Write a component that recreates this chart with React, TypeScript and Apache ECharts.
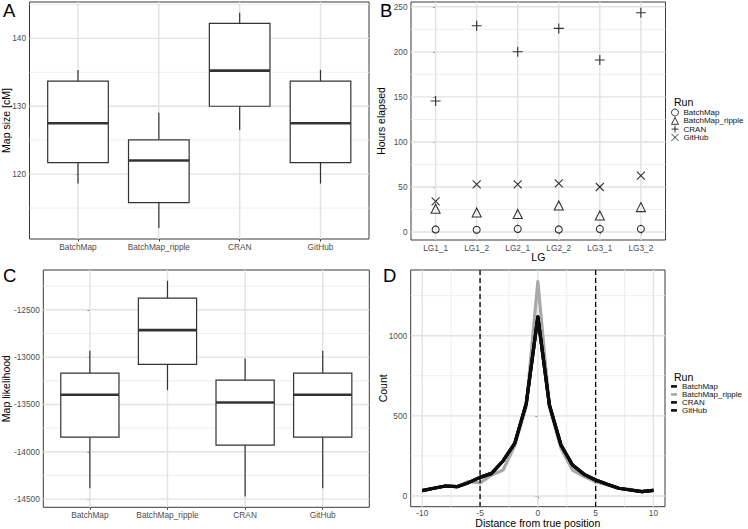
import React, { useEffect, useRef } from 'react';
import * as echarts from 'echarts';

// ---------- DATA ----------
const boxCategories = ['BatchMap', 'BatchMap_ripple', 'CRAN', 'GitHub'];
// five-number summaries: [lower whisker, Q1, median, Q3, upper whisker]
const mapSizeStats = [
  [118.6, 121.7, 127.5, 133.7, 135.35],
  [112.05, 115.8, 122.0, 125.05, 129.05],
  [126.5, 130.0, 135.25, 142.2, 143.77],
  [118.6, 121.7, 127.5, 133.7, 135.35],
];
const mapSizeTicks = [120, 130, 140];
const mapSizeMinor = [115, 125, 135, 145];

const mapLikelihoodStats = [
  [-14384, -13845, -13398, -13169, -12933],
  [-13349, -13077, -12715, -12377, -12194],
  [-14472, -13930, -13479, -13243, -13014],
  [-14384, -13845, -13398, -13169, -12933],
];
const likelihoodTicks = [-14500, -14000, -13500, -13000, -12500];
const likelihoodMinor = [-14250, -13750, -13250, -12750, -12250];

const lgCategories = ['LG1_1', 'LG1_2', 'LG2_1', 'LG2_2', 'LG3_1', 'LG3_2'];
const hoursBatchMap = [2.9, 2.5, 3.5, 2.9, 3.5, 3.5];
const hoursRipple = [25.8, 21.7, 20.0, 29.5, 18.4, 27.7];
const hoursCRAN = [145.5, 229.0, 200.1, 226.0, 191.0, 243.4];
const hoursGitHub = [34.0, 53.0, 53.0, 54.0, 50.0, 62.7];
const hoursTicks = [0, 50, 100, 150, 200, 250];
const hoursMinor = [25, 75, 125, 175, 225];

const distanceValues = [-10, -9, -8, -7, -6, -5, -4, -3, -2, -1, 0, 1, 2, 3, 4, 5, 6, 7, 8, 9, 10];
const countBatchMap = [33, 48, 62, 58, 83, 116, 141, 220, 328, 578, 1118, 568, 318, 193, 135, 100, 73, 48, 37, 27, 35];
const countRipple = [33, 48, 62, 58, 90, 82, 131, 162, 315, 560, 1337, 557, 297, 162, 121, 89, 69, 48, 42, 27, 37];
const countCRAN = [33, 48, 62, 58, 83, 116, 141, 220, 328, 578, 1118, 568, 318, 193, 135, 100, 73, 48, 37, 27, 35];
const countGitHub = [33, 48, 62, 58, 83, 116, 141, 220, 328, 578, 1118, 568, 318, 193, 135, 100, 73, 48, 37, 27, 35];
const distanceTicks = [-10, -5, 0, 5, 10];
const distanceMinor = [-7.5, -2.5, 2.5, 7.5];
const countTicks = [0, 500, 1000];
const countMinor = [250, 750, 1250];
const windowMarks = [-5, 5];

// ---------- STYLE ----------
const FONT = '"Liberation Sans", Arial, Helvetica, sans-serif';
const TICK_TEXT = '#4d4d4d';
const BORDER = '#3a3a3a';
const GRID_MAJOR = '#e2e2e2';
const GRID_MINOR = '#ececec';
const BOX_STROKE = '#333333';
const DARK_LINE = '#0d0d0d';
const LIGHT_LINE = '#a8a8a8';

const idx = (arr: any[]) => arr.map((_, i) => i);

function gridLineSeries(gi: number, hMajor: number[], hMinor: number[], vMajor: number[], vMinor: number[]) {
  const data = [
    ...hMinor.map((v) => [v, 0, 1]),
    ...vMinor.map((v) => [v, 1, 1]),
    ...hMajor.map((v) => [v, 0, 0]),
    ...vMajor.map((v) => [v, 1, 0]),
  ];
  return {
    type: 'custom',
    xAxisIndex: gi,
    yAxisIndex: gi,
    silent: true,
    z: 1,
    data,
    renderItem: (params: any, api: any) => {
      const cs = params.coordSys;
      const v = api.value(0);
      const orient = api.value(1);
      const kind = api.value(2);
      const style = {
        stroke: kind === 0 ? GRID_MAJOR : GRID_MINOR,
        lineWidth: kind === 0 ? 1.4 : 0.9,
      };
      if (orient === 0) {
        const y = api.coord([0, v])[1];
        return { type: 'line', shape: { x1: cs.x, y1: y, x2: cs.x + cs.width, y2: y }, style };
      }
      const x = api.coord([v, 0])[0];
      return { type: 'line', shape: { x1: x, y1: cs.y, x2: x, y2: cs.y + cs.height }, style };
    },
  };
}

function boxSeries(gi: number, stats: number[][]) {
  return {
    type: 'custom',
    xAxisIndex: gi,
    yAxisIndex: gi,
    z: 3,
    silent: true,
    data: stats.map((s, i) => [i, ...s]),
    renderItem: (params: any, api: any) => {
      const i = api.value(0);
      const p = api.coord([i, api.value(1)]);
      const cx = p[0];
      const yLow = p[1];
      const yQ1 = api.coord([i, api.value(2)])[1];
      const yMed = api.coord([i, api.value(3)])[1];
      const yQ3 = api.coord([i, api.value(4)])[1];
      const yHigh = api.coord([i, api.value(5)])[1];
      const hw = api.size([0.75, 0])[0] / 2;
      const st = { stroke: BOX_STROKE, lineWidth: 1.2 };
      return {
        type: 'group',
        children: [
          { type: 'line', shape: { x1: cx, y1: yHigh, x2: cx, y2: yQ3 }, style: st },
          { type: 'line', shape: { x1: cx, y1: yQ1, x2: cx, y2: yLow }, style: st },
          { type: 'rect', shape: { x: cx - hw, y: yQ3, width: 2 * hw, height: yQ1 - yQ3 }, style: { ...st, fill: '#ffffff' } },
          { type: 'line', shape: { x1: cx - hw, y1: yMed, x2: cx + hw, y2: yMed }, style: { stroke: BOX_STROKE, lineWidth: 2.6 } },
        ],
      };
    },
  };
}

function xAxisDef(gi: number, min: number, max: number, ticks: number[], fmt: (v: number) => string, margin = 3.5) {
  return {
    type: 'value',
    gridIndex: gi,
    min,
    max,
    axisLine: { show: false },
    splitLine: { show: false },
    axisTick: { show: true, customValues: ticks, length: 2.5, lineStyle: { color: BORDER, width: 1 } },
    axisLabel: { customValues: ticks, formatter: fmt, margin, color: TICK_TEXT, fontSize: 8.3, fontFamily: FONT },
  };
}
function yAxisDef(gi: number, min: number, max: number, ticks: number[]) {
  return {
    type: 'value',
    gridIndex: gi,
    min,
    max,
    axisLine: { show: false },
    splitLine: { show: false },
    axisTick: { show: true, customValues: ticks, length: 2.5, lineStyle: { color: BORDER, width: 1 } },
    axisLabel: { customValues: ticks, formatter: (v: number) => String(v), margin: 3.5, color: TICK_TEXT, fontSize: 8.3, fontFamily: FONT },
  };
}

const PLUS = 'path://M5,0L5,10M0,5L10,5';
const CROSS = 'path://M0,0L10,10M10,0L0,10';

function scatter(name: string, values: number[], symbol: string, size: number) {
  return {
    type: 'scatter',
    name,
    xAxisIndex: 1,
    yAxisIndex: 1,
    z: 4,
    symbol,
    symbolSize: size,
    itemStyle: { color: 'transparent', borderColor: '#000', borderWidth: 1.1 },
    data: values.map((v, i) => [i, v]),
  };
}

function countLine(name: string, values: number[], color: string) {
  return {
    type: 'line',
    name: 'D·' + name,
    xAxisIndex: 3,
    yAxisIndex: 3,
    z: 4,
    symbol: 'none',
    showSymbol: false,
    lineStyle: { width: 3.2, color, join: 'round' },
    itemStyle: { color },
    data: values.map((v, i) => [distanceValues[i], v]),
  };
}

const titleText = (text: string, x: number, y: number, rotate = false, size = 10.5) => ({
  type: 'text',
  x,
  y,
  rotation: rotate ? Math.PI / 2 : 0,
  style: { text, fill: '#000', font: `${size}px ${FONT}`, textAlign: 'center', textVerticalAlign: 'middle' },
});
const leftText = (text: string, x: number, y: number, size: number) => ({
  type: 'text',
  x,
  y,
  style: { text, fill: '#000', font: `${size}px ${FONT}`, textAlign: 'left', textVerticalAlign: 'middle' },
});

const option: any = {
  animation: false,
  backgroundColor: '#ffffff',
  textStyle: { fontFamily: FONT },
  grid: [
    { left: 29.5, top: 2, width: 339.5, height: 237, show: true, borderColor: BORDER, borderWidth: 1, backgroundColor: 'transparent' },
    { left: 411, top: 2, width: 254.5, height: 238, show: true, borderColor: BORDER, borderWidth: 1, backgroundColor: 'transparent' },
    { left: 43.3, top: 270, width: 326, height: 237.3, show: true, borderColor: BORDER, borderWidth: 1, backgroundColor: 'transparent' },
    { left: 410.7, top: 270, width: 254.3, height: 236.7, show: true, borderColor: BORDER, borderWidth: 1, backgroundColor: 'transparent' },
  ],
  xAxis: [
    xAxisDef(0, -0.6, 3.6, idx(boxCategories), (v) => boxCategories[v]),
    xAxisDef(1, -0.6, 5.6, idx(lgCategories), (v) => lgCategories[v]),
    xAxisDef(2, -0.6, 3.6, idx(boxCategories), (v) => boxCategories[v]),
    xAxisDef(3, -11, 11, distanceTicks, (v) => String(v), 2),
  ],
  yAxis: [
    yAxisDef(0, 110.44, 145.36, mapSizeTicks),
    yAxisDef(1, -8.8, 255.3, hoursTicks),
    yAxisDef(2, -14586, -12080, likelihoodTicks),
    yAxisDef(3, -67, 1410, countTicks),
  ],
  legend: [
    {
      data: ['BatchMap', 'BatchMap_ripple', 'CRAN', 'GitHub'],
      orient: 'vertical',
      left: 671,
      top: 108.5,
      padding: 0,
      itemWidth: 7,
      itemHeight: 7,
      itemGap: 0.3,
      selectedMode: false,
      itemStyle: { borderWidth: 1 },
      textStyle: { fontSize: 8, color: '#111', lineHeight: 7, fontFamily: FONT },
    },
    {
      data: ['D·BatchMap', 'D·BatchMap_ripple', 'D·CRAN', 'D·GitHub'],
      formatter: (n: string) => n.slice(2),
      orient: 'vertical',
      left: 671,
      top: 382.4,
      padding: 0,
      icon: 'rect',
      itemWidth: 6,
      itemHeight: 2.6,
      itemGap: 0,
      selectedMode: false,
      textStyle: { fontSize: 8, color: '#111', lineHeight: 6.3, fontFamily: FONT },
    },
  ],
  graphic: [
    leftText('A', 3, 10, 18.5),
    leftText('B', 380, 10, 18.5),
    leftText('C', 3, 275, 18.5),
    leftText('D', 383, 275.5, 18.5),
    titleText('Map size [cM]', 6, 120.5, true),
    titleText('Hours elapsed', 380.5, 121, true),
    titleText('LG', 538.3, 256.5),
    titleText('Map likelihood', 6.3, 388.6, true),
    titleText('Count', 383, 388.3, true),
    titleText('Distance from true position', 537.8, 523),
    leftText('Run', 674, 102, 10.5),
    leftText('Run', 674, 377, 10.5),
  ],
  series: [
    gridLineSeries(0, mapSizeTicks, mapSizeMinor, idx(boxCategories), []),
    gridLineSeries(1, hoursTicks, hoursMinor, idx(lgCategories), []),
    gridLineSeries(2, likelihoodTicks, likelihoodMinor, idx(boxCategories), []),
    gridLineSeries(3, countTicks, countMinor, distanceTicks, distanceMinor),
    boxSeries(0, mapSizeStats),
    boxSeries(2, mapLikelihoodStats),
    scatter('BatchMap', hoursBatchMap, 'circle', 7),
    scatter('BatchMap_ripple', hoursRipple, 'triangle', 9),
    scatter('CRAN', hoursCRAN, PLUS, 10),
    scatter('GitHub', hoursGitHub, CROSS, 8),
    countLine('BatchMap_ripple', countRipple, LIGHT_LINE),
    countLine('BatchMap', countBatchMap, DARK_LINE),
    countLine('CRAN', countCRAN, DARK_LINE),
    countLine('GitHub', countGitHub, DARK_LINE),
    {
      type: 'custom',
      xAxisIndex: 3,
      yAxisIndex: 3,
      z: 5,
      silent: true,
      data: windowMarks.map((v) => [v, 0]),
      renderItem: (params: any, api: any) => {
        const cs = params.coordSys;
        const x = api.coord([api.value(0), 0])[0];
        return {
          type: 'line',
          shape: { x1: x, y1: cs.y, x2: x, y2: cs.y + cs.height },
          style: { stroke: '#000', lineWidth: 1.3, lineDash: [5, 3] },
        };
      },
    },
  ],
};

export default function App() {
  const ref = useRef<HTMLDivElement>(null);
  useEffect(() => {
    const chart = echarts.init(ref.current!, null, { renderer: 'svg' });
    chart.setOption(option);
    return () => chart.dispose();
  }, []);
  return (
    <div
      ref={ref}
      style={{ position: 'fixed', left: 0, top: 0, width: 748, height: 529, background: '#fff' }}
    />
  );
}
